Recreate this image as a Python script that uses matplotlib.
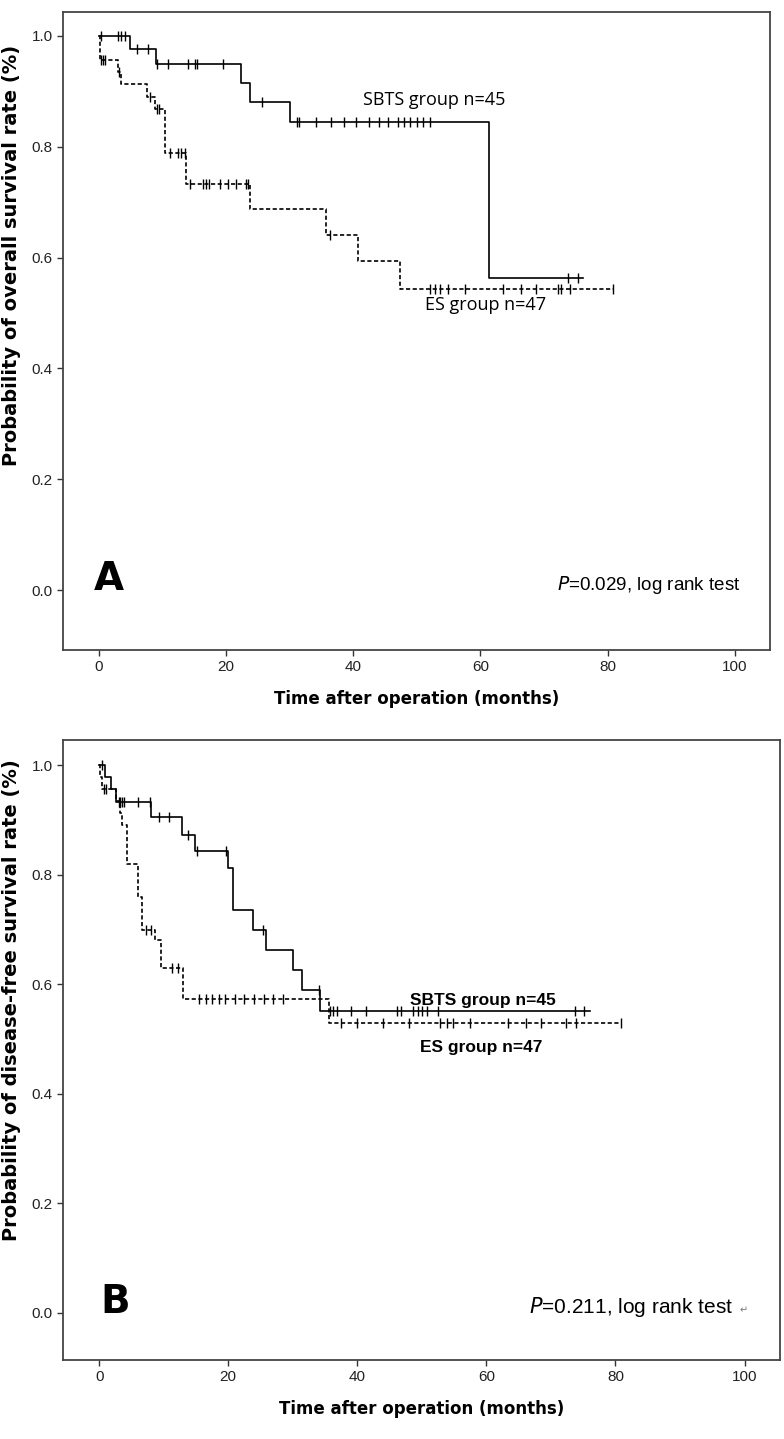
import numpy as np
import matplotlib.pyplot as plt

plt.rcParams['font.family'] = ['Liberation Sans', 'DejaVu Sans']

# ---- panel A: overall survival ----
os_sbts_t = [0, 4.9, 9.0, 22.4, 23.8, 30.0, 61.3, 76.1]
os_sbts_s = [1.0, 0.976, 0.949, 0.915, 0.880, 0.844, 0.564, 0.564]
os_sbts_cens = [0.3, 3.0, 3.5, 4.1, 6.0, 7.8, 9.1, 10.9, 14.0, 15.2, 15.4, 19.5,
                25.6, 31.1, 31.5, 34.1, 36.5, 38.5, 40.5, 42.5, 44.0, 45.5, 47.0,
                48.0, 49.0, 50.0, 51.0, 52.0, 73.8, 75.3]

os_es_t = [0, 0.2, 3.0, 3.5, 7.6, 8.8, 10.5, 13.8, 23.8, 35.8, 40.7, 47.3, 80.9]
os_es_s = [1.0, 0.957, 0.935, 0.913, 0.890, 0.868, 0.789, 0.732, 0.687, 0.640,
           0.593, 0.543, 0.543]
os_es_cens = [0.4, 0.7, 1.0, 3.2, 8.0, 9.1, 9.5, 11.2, 12.5, 13.0, 13.5, 14.3,
              16.4, 16.8, 17.3, 19.0, 20.3, 21.6, 23.1, 23.5, 36.3, 52.0, 52.8,
              53.6, 54.9, 57.5, 63.5, 66.4, 68.8, 72.2, 72.7, 74.0, 80.9]

# ---- panel B: disease-free survival ----
dfs_sbts_t = [0, 0.9, 1.9, 2.6, 8.0, 12.8, 14.9, 20.0, 20.8, 23.9, 25.9, 30.0,
              31.5, 34.2, 76.0]
dfs_sbts_s = [1.0, 0.978, 0.956, 0.933, 0.905, 0.873, 0.844, 0.812, 0.735,
              0.700, 0.663, 0.626, 0.589, 0.551, 0.551]
dfs_sbts_cens = [0.4, 3.0, 3.2, 3.5, 3.8, 6.0, 7.9, 9.2, 10.9, 13.8, 15.1, 19.7,
                 25.4, 34.0, 35.8, 36.3, 36.9, 39.1, 41.4, 46.1, 46.8, 48.7,
                 49.4, 50.1, 50.8, 52.5, 73.7, 75.2]

dfs_es_t = [0, 0.2, 0.5, 2.6, 3.3, 3.6, 4.3, 6.0, 6.7, 8.6, 9.6, 13.0, 35.6, 80.9]
dfs_es_s = [1.0, 0.979, 0.957, 0.935, 0.913, 0.891, 0.820, 0.760, 0.700, 0.680,
            0.630, 0.573, 0.530, 0.530]
dfs_es_cens = [0.7, 1.0, 7.2, 8.1, 11.3, 12.2, 15.5, 16.5, 17.5, 18.5, 19.5, 21.0,
               22.5, 24.0, 25.5, 27.0, 28.5, 37.5, 40.0, 44.0, 48.0, 52.8, 53.9,
               54.8, 57.4, 63.4, 66.2, 68.5, 72.3, 73.9, 80.9]

x_ticks = [0, 20, 40, 60, 80, 100]
y_ticks = [0.0, 0.2, 0.4, 0.6, 0.8, 1.0]


def km_curve(ax, t, s, cens, ls):
    ax.step(t, s, where='post', color='black', lw=1.2, ls=ls)
    t = np.array(t)
    s = np.array(s)
    idx = np.searchsorted(t, cens, side='right') - 1
    ax.plot(cens, s[idx], ls='none', marker='|', ms=7, mew=1.0, color='black')


def setup(ax, ylim):
    ax.set_xlim(-5.6, 105.5)
    ax.set_ylim(*ylim)
    ax.set_xticks(x_ticks)
    ax.set_yticks(y_ticks)
    ax.set_yticklabels(['%.1f' % v for v in y_ticks])
    ax.tick_params(labelsize=11, length=4, width=1, color='#333333',
                   labelcolor='#222222')
    for sp in ax.spines.values():
        sp.set_color('#444444')
        sp.set_linewidth(1.3)
    ax.set_xlabel('Time after operation (months)', fontsize=12, fontweight='bold',
                  family='DejaVu Sans', labelpad=11)


fig = plt.figure(figsize=(7.84, 14.39), dpi=100)
axA = fig.add_axes([63 / 784, 1 - 650 / 1439, 707 / 784, 638 / 1439])
axB = fig.add_axes([63 / 784, 1 - 1360 / 1439, 717 / 784, 620 / 1439])

km_curve(axA, os_sbts_t, os_sbts_s, os_sbts_cens, '-')
km_curve(axA, os_es_t, os_es_s, os_es_cens, (0, (2.5, 1.5)))
setup(axA, (-0.108, 1.043))
fig.text(12 / 784, 1 - 255 / 1439, 'Probability of overall survival rate (%)',
         rotation=90, ha='center', va='center', fontsize=14, fontweight='bold',
         family='DejaVu Sans')
axA.text(41.5, 0.884, 'SBTS group n=45', fontsize=13, family='Open Sans',
         va='center')
axA.text(51.3, 0.515, 'ES group n=47', fontsize=13, family='Open Sans',
         va='center')
axA.text(100.8, 0.0, '$\\it{P}$=0.029, log rank test', fontsize=13.5, ha='right',
         va='baseline')
axA.text(-0.7, 0.0, 'A', fontsize=28, fontweight='bold', family='DejaVu Sans',
         va='baseline')

km_curve(axB, dfs_sbts_t, dfs_sbts_s, dfs_sbts_cens, '-')
km_curve(axB, dfs_es_t, dfs_es_s, dfs_es_cens, (0, (2.5, 1.5)))
setup(axB, (-0.086, 1.046))
fig.text(12 / 784, 1 - 1000 / 1439, 'Probability of disease-free survival rate (%)',
         rotation=90, ha='center', va='center', fontsize=14, fontweight='bold',
         family='DejaVu Sans')
axB.text(48.1, 0.562, 'SBTS group n=45', fontsize=12.5, fontweight='bold',
         va='baseline')
axB.text(49.7, 0.484, 'ES group n=47', fontsize=12.5, fontweight='bold',
         va='center')
axB.text(98.3, 0.0, '$\\it{P}$=0.211, log rank test', fontsize=15, ha='right',
         va='baseline')
axB.text(99.3, 0.0, '\u21b5', fontsize=7, color='#777777', va='baseline',
         family='DejaVu Sans')
axB.text(0.2, 0.0, 'B', fontsize=28, fontweight='bold', family='DejaVu Sans',
         va='baseline')

fig.savefig('out.png', dpi=100)
